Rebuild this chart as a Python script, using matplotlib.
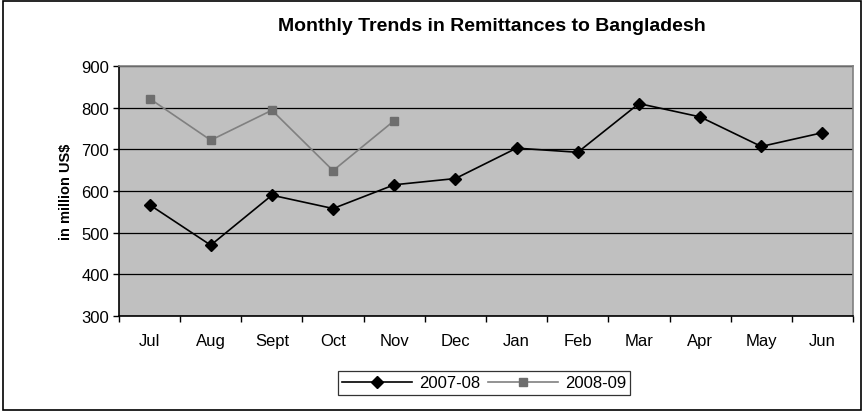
import matplotlib.pyplot as plt
from matplotlib.patches import Rectangle

plt.rcParams['font.family'] = ['Liberation Sans', 'DejaVu Sans']

months = ['Jul', 'Aug', 'Sept', 'Oct', 'Nov', 'Dec', 'Jan', 'Feb', 'Mar', 'Apr', 'May', 'Jun']
fy2007 = [567, 470, 590, 558, 615, 630, 703, 693, 810, 778, 707, 740]
fy2008 = [822, 722, 794, 649, 769]

fig = plt.figure(figsize=(8.66, 4.14), dpi=100)
fig.patches.append(Rectangle((0.004, 0.008), 0.99, 0.988, transform=fig.transFigure,
                             fill=False, edgecolor='black', linewidth=1.2))

ax = fig.add_axes([0.1374, 0.2343, 0.8476, 0.6037])
ax.set_facecolor('#c0c0c0')

x1 = list(range(len(fy2007)))
x2 = list(range(len(fy2008)))
ax.plot(x1, fy2007, color='black', linewidth=1.2, marker='D', markersize=6,
        markerfacecolor='black', markeredgecolor='black', label='2007-08', zorder=3)
ax.plot(x2, fy2008, color='#808080', linewidth=1.2, marker='s', markersize=6,
        markerfacecolor='#6e6e6e', markeredgecolor='#6e6e6e', label='2008-09', zorder=3)

ax.set_xlim(-0.5, len(months) - 0.5)
ax.set_ylim(300, 900)
ax.set_yticks(range(300, 901, 100))
ax.set_xticks(x1)
ax.set_xticklabels(months)
ax.set_xticks([i - 0.5 for i in range(len(months) + 1)], minor=True)
ax.tick_params(axis='x', which='major', length=0, pad=12, labelsize=12)
ax.tick_params(axis='x', which='minor', length=4, direction='out', width=1, color='black')
ax.tick_params(axis='y', length=4, direction='out', width=1, labelsize=12, pad=3)

ax.yaxis.grid(True, color='black', linewidth=0.9)
ax.set_axisbelow(True)
for side in ['left', 'bottom']:
    ax.spines[side].set_color('black')
    ax.spines[side].set_linewidth(1.2)
for side in ['top', 'right']:
    ax.spines[side].set_color('#808080')
    ax.spines[side].set_linewidth(1.2)

ax.set_ylabel('in million US$', fontsize=10.5, fontweight='bold', labelpad=6)
fig.text(0.568, 0.935, 'Monthly Trends in Remittances to Bangladesh',
         ha='center', va='center', fontsize=14, fontweight='bold')

leg = fig.legend(loc='center', bbox_to_anchor=(0.559, 0.0725), ncol=2, frameon=True,
                 fancybox=False, edgecolor='black', fontsize=12, handlelength=4.2,
                 columnspacing=0.5, handletextpad=0.4, borderpad=0.25)
leg.get_frame().set_linewidth(0.9)

fig.savefig('out.png', dpi=100)
